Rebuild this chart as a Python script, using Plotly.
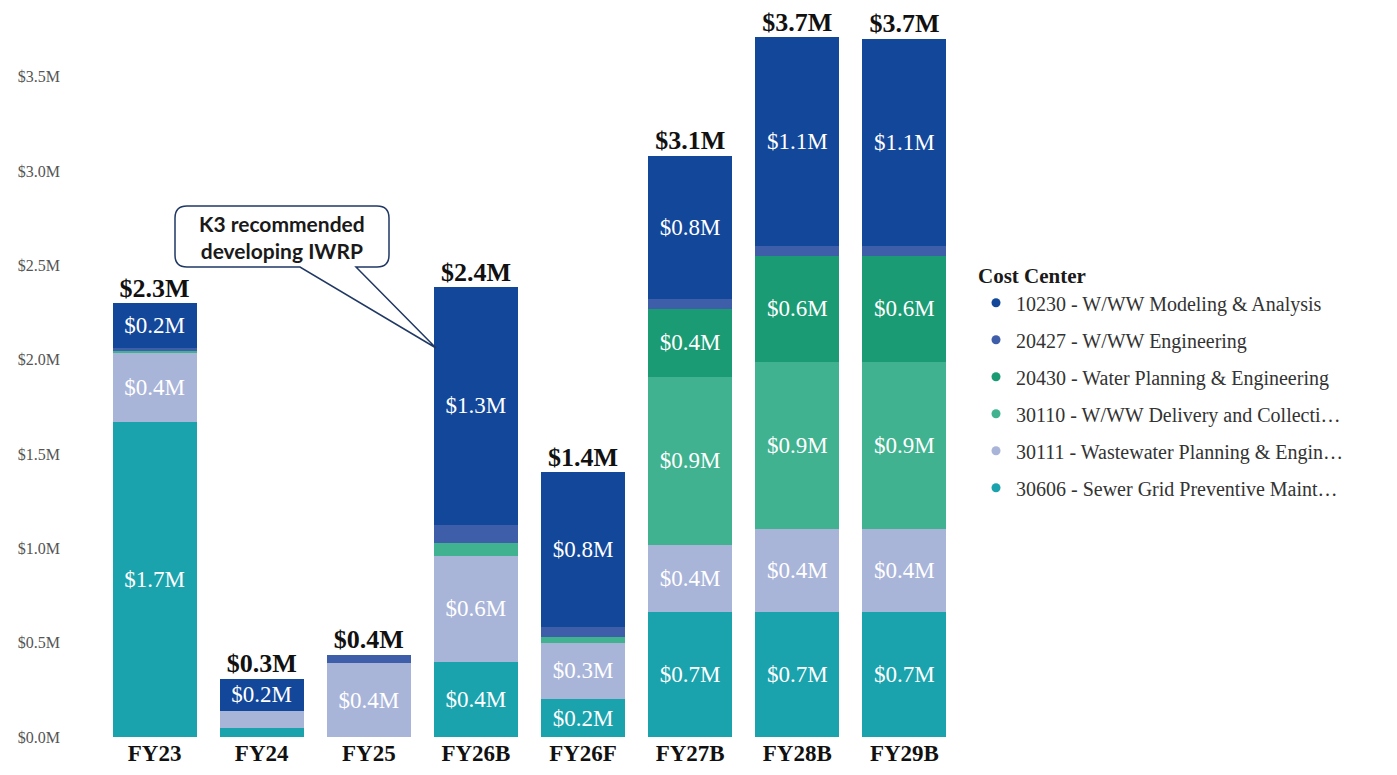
import plotly.graph_objects as go

# Fiscal-year columns (B = budget, F = forecast)
categories = ["FY23", "FY24", "FY25", "FY26B", "FY26F", "FY27B", "FY28B", "FY29B"]

# Spend by cost center, in $M
cc_30606 = [1.67, 0.05, 0.00, 0.40, 0.20, 0.66, 0.66, 0.66]
cc_30111 = [0.37, 0.09, 0.39, 0.56, 0.30, 0.36, 0.44, 0.44]
cc_30110 = [0.01, 0.00, 0.00, 0.07, 0.03, 0.89, 0.89, 0.89]
cc_20430 = [0.00, 0.00, 0.00, 0.00, 0.00, 0.36, 0.56, 0.56]
cc_20427 = [0.01, 0.00, 0.045, 0.095, 0.053, 0.05, 0.05, 0.05]
cc_10230 = [0.24, 0.17, 0.00, 1.26, 0.82, 0.76, 1.11, 1.10]

series_names = [
    "30606 - Sewer Grid Preventive Maint…",
    "30111 - Wastewater Planning & Engin…",
    "30110 - W/WW Delivery and Collecti…",
    "20430 - Water Planning & Engineering",
    "20427 - W/WW Engineering",
    "10230 - W/WW Modeling & Analysis",
]
series_values = [cc_30606, cc_30111, cc_30110, cc_20430, cc_20427, cc_10230]
series_colors = ["#1aa3ad", "#a9b4d9", "#40b28f", "#1b9b73", "#3e5ea9", "#12479a"]

y_tickvals = [0.0, 0.5, 1.0, 1.5, 2.0, 2.5, 3.0, 3.5]
y_ticktext = ["$0.0M", "$0.5M", "$1.0M", "$1.5M", "$2.0M", "$2.5M", "$3.0M", "$3.5M"]

SERIF = "Liberation Serif, Times New Roman, serif"

fig = go.Figure()

# stacked segments, labelled when tall enough
for name, vals, color in zip(series_names, series_values, series_colors):
    labels = [f"${v:.1f}M" if v >= 0.15 else "" for v in vals]
    fig.add_trace(go.Bar(
        x=categories, y=vals, name=name,
        marker=dict(color=color, line=dict(width=0)),
        text=labels, textposition="inside", insidetextanchor="middle",
        textangle=0, constraintext="none",
        textfont=dict(family=SERIF, size=23, color="#ffffff"),
        showlegend=False, hoverinfo="skip",
    ))

# column totals above each bar
totals = [sum(col) for col in zip(*series_values)]
fig.add_trace(go.Scatter(
    x=categories, y=totals, mode="text",
    text=[f"${t:.1f}M" for t in totals], textposition="top center",
    textfont=dict(family=SERIF, size=26, color="#111111"),
    texttemplate="<b>%{text}</b>",
    showlegend=False, hoverinfo="skip", cliponaxis=False,
))

# legend entries with round markers, top series first
for name, color in reversed(list(zip(series_names, series_colors))):
    fig.add_trace(go.Scatter(
        x=[None], y=[None], mode="markers", name=name, legendgroup=name,
        marker=dict(symbol="circle", size=9, color=color),
    ))

# plot-area geometry used to place the callout
L, R, T, B = 101, 439, 5, 38
W, H = 1397, 775
pw, ph = W - L - R, H - T - B


def pp(x, y):
    return f"{(x - L) / pw:.5f},{(H - B - y) / ph:.5f}"


bx0, bx1, by0, by1, r = 175, 389, 206, 267, 12
tail_a, tail_b, tip = 300, 356, (436, 348)
callout = (
    f"M{pp(bx0 + r, by0)} L{pp(bx1 - r, by0)} Q{pp(bx1, by0)} {pp(bx1, by0 + r)} "
    f"L{pp(bx1, by1 - r)} Q{pp(bx1, by1)} {pp(bx1 - r, by1)} "
    f"L{pp(tail_b, by1)} L{pp(*tip)} L{pp(tail_a, by1)} "
    f"L{pp(bx0 + r, by1)} Q{pp(bx0, by1)} {pp(bx0, by1 - r)} "
    f"L{pp(bx0, by0 + r)} Q{pp(bx0, by0)} {pp(bx0 + r, by0)} Z"
)
fig.add_shape(type="path", path=callout, xref="paper", yref="paper",
              fillcolor="#ffffff", line=dict(color="#203864", width=1.5), layer="above")
fig.add_annotation(
    x=(((bx0 + bx1) / 2) - L) / pw, y=(H - B - (by0 + by1) / 2) / ph,
    xref="paper", yref="paper", xanchor="center", yanchor="middle", showarrow=False,
    text="<b>K3 recommended<br>developing IWRP</b>",
    font=dict(family="Lato, Open Sans, sans-serif", size=21, color="#1a1a1a"),
    align="center",
)

fig.update_layout(
    width=W, height=H,
    margin=dict(l=L, r=R, t=T, b=B),
    paper_bgcolor="#ffffff", plot_bgcolor="#ffffff",
    barmode="stack", bargap=0.215,
    legend=dict(
        title=dict(text="<b>Cost Center</b>", font=dict(family=SERIF, size=21, color="#1a1a1a")),
        font=dict(family=SERIF, size=20, color="#333333"),
        x=(976 - L) / pw, xanchor="left", y=(H - B - 256) / ph, yanchor="top",
        tracegroupgap=8, itemclick=False,
    ),
    xaxis=dict(
        showgrid=False, zeroline=False, showline=False, ticks="",
        tickfont=dict(family=SERIF, size=23, color="#111111"),
        tickprefix="<b>", ticksuffix="</b>",
    ),
    yaxis=dict(
        range=[0, 3.88], showgrid=False, zeroline=False, showline=False,
        tickvals=y_tickvals, ticktext=y_ticktext,
        tickfont=dict(family=SERIF, size=16, color="#555555"),
        ticklabelstandoff=40,
    ),
)

fig.write_html("out.html")
